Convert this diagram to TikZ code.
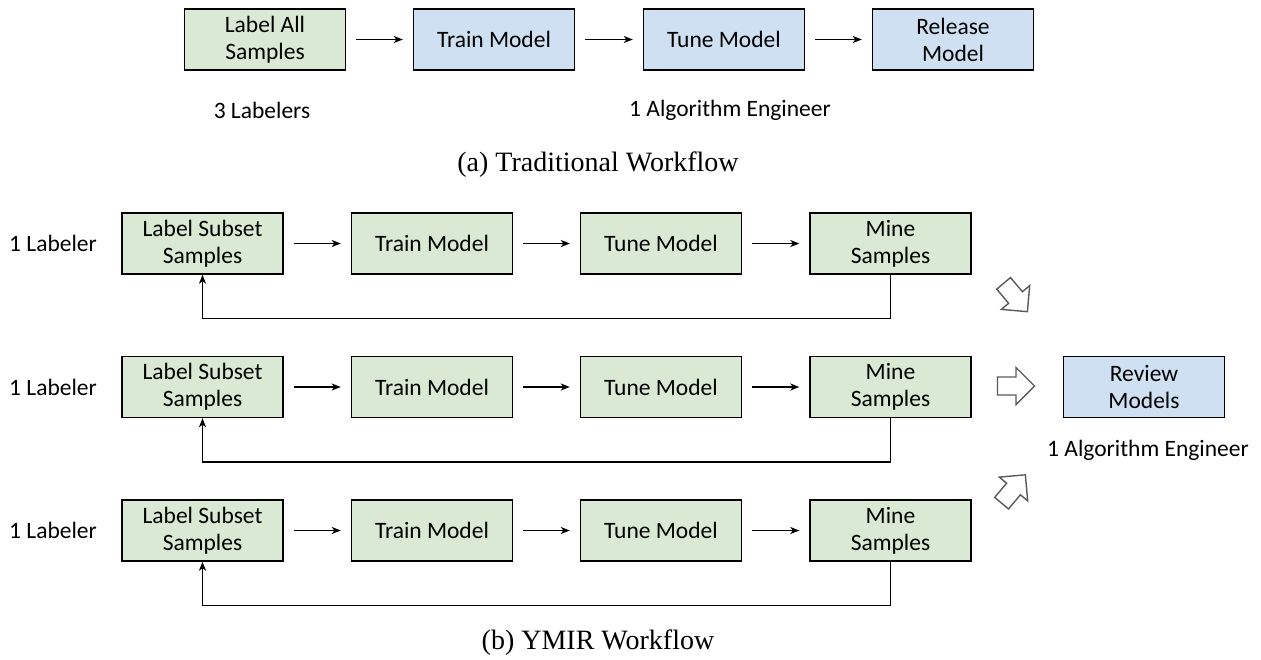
\documentclass[tikz,border=0pt]{standalone}
\usepackage{fontspec}
\setmainfont{Carlito}
\newfontfamily\capfont{Liberation Serif}
\usetikzlibrary{arrows,arrows.meta}

\definecolor{labgreen}{RGB}{217,233,211}
\definecolor{algblue}{RGB}{207,224,242}
\definecolor{fatgray}{RGB}{90,90,90}

\tikzset{
  box/.style={draw=black,line width=1.4pt,minimum width=161pt,minimum height=61pt,
    inner sep=0pt,align=center,font=\fontsize{23.5}{27}\selectfont},
  greenbox/.style={box,fill=labgreen},
  bluebox/.style={box,fill=algblue},
  who/.style={font=\fontsize{23.5}{27}\selectfont},
  caption/.style={font=\capfont\fontsize{28}{32}\selectfont,anchor=base},
  flow/.style={-{Stealth[length=9pt,width=7pt,inset=2.5pt]},line width=1.5pt,shorten <=10pt,shorten >=10pt},
  back/.style={-{Stealth[length=9pt,width=7pt,inset=2.5pt]},line width=1.5pt},
  fatarrow/.pic={
    \draw[fatgray,line width=1.4pt,fill=white,line join=miter]
      (-18.5,-9) -- (0,-9) -- (0,-18.5) -- (18.5,0) -- (0,18.5) -- (0,9) -- (-18.5,9) -- cycle;
  }
}

\begin{document}
\begin{tikzpicture}[x=1pt,y=-1pt]
\useasboundingbox (0,0) rectangle (1261,659);

\node[greenbox] (labelAll) at (265,39.5) {Label All\\Samples};
\node[bluebox] (trainA) at (494,39.5) {Train Model};
\node[bluebox] (tuneA) at (724,39.5) {Tune Model};
\node[bluebox] (releaseA) at (953,39.5) {Release\\Model};
\draw[flow] (labelAll) -- (trainA);
\draw[flow] (trainA) -- (tuneA);
\draw[flow] (tuneA) -- (releaseA);
\node[who] (labelersA) at (262,110) {3 Labelers};
\node[who] (engineerA) at (730,110) {1 Algorithm Engineer};
\node[caption] (capA) at (598,171) {(a) Traditional Workflow};

\foreach \r/\y in {1/243.5,2/387,3/530.5}{
  \node[who] (labeler\r) at (53,\y) {1 Labeler};
  \node[greenbox] (label\r) at (202.5,\y) {Label Subset\\Samples};
  \node[greenbox] (train\r) at (432,\y) {Train Model};
  \node[greenbox] (tune\r) at (661,\y) {Tune Model};
  \node[greenbox] (mine\r) at (890.5,\y) {Mine\\Samples};
  \draw[flow] (label\r) -- (train\r);
  \draw[flow] (train\r) -- (tune\r);
  \draw[flow] (tune\r) -- (mine\r);
  \draw[back] (mine\r.south) -- ++(0,44) -| (label\r.south);
}

\node[bluebox] (review) at (1144,387) {Review\\Models};
\node[who] (engineerB) at (1148,450) {1 Algorithm Engineer};

\pic[rotate=-50] at (1015.5,297.5) {fatarrow};
\pic at (1016,386) {fatarrow};
\pic[rotate=50] at (1013.5,489) {fatarrow};

\node[caption] (capB) at (598,649) {(b) YMIR Workflow};
\end{tikzpicture}
\end{document}
